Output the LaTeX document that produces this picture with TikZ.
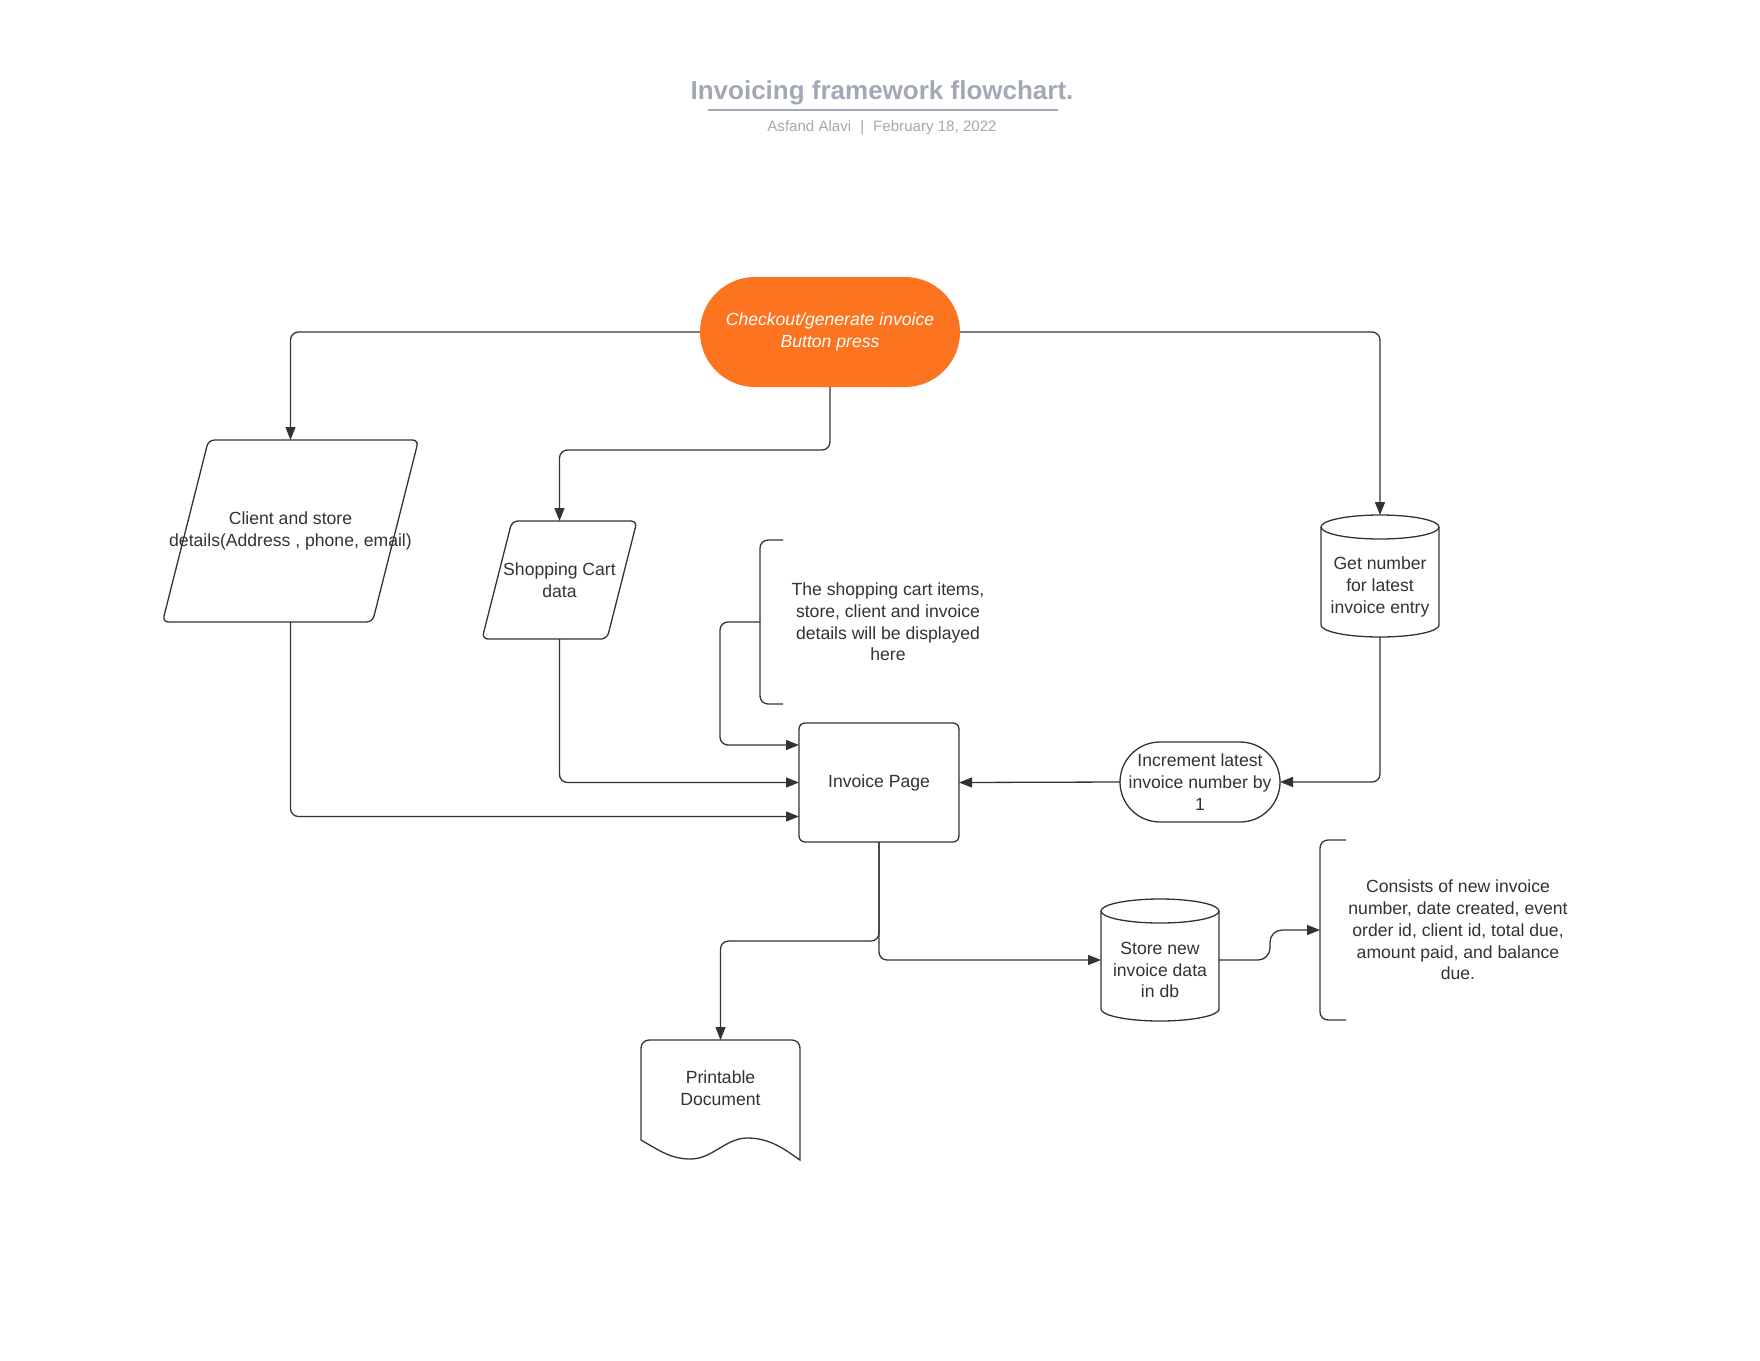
\documentclass[tikz,border=0pt]{standalone}
\usepackage{fontspec}
\setmainfont{Liberation Sans}
\usetikzlibrary{arrows.meta,calc}
\definecolor{ink}{HTML}{333333}
\definecolor{brand}{HTML}{FC7420}
\definecolor{muted}{HTML}{A3A9B4}

% database drum drawn around an (empty) shape node of 118 x 122
\newcommand\drumoutline[1]{%
  \begin{scope}[shift={(#1.center)}]
    \draw[outline] (0,-49) ellipse [x radius=59pt, y radius=12pt];
    \draw[outline] (-59,-49) -- (-59,49)
      .. controls (-59,55.6) and (-32.6,61) .. (0,61)
      .. controls (32.6,61) and (59,55.6) .. (59,49) -- (59,-49);
  \end{scope}}

\begin{document}
\begin{tikzpicture}[x=1pt,y=-1pt,
  every node/.style={inner sep=0pt, outer sep=0pt},
  body/.style={font=\fontsize{17.6pt}{21.7pt}\selectfont, text=ink, align=center},
  outline/.style={draw=ink, line width=1.3pt},
  arr/.style={draw=ink, line width=1.3pt, rounded corners=8pt,
    -{Triangle[length=13pt,width=10pt]}},
  drumbox/.style={minimum width=118pt, minimum height=122pt},
]
\fill[white] (0,0) rectangle (1760,1360);
\useasboundingbox (0,0) rectangle (1760,1360);

% heading
\node[font=\fontsize{26pt}{31pt}\selectfont\bfseries, text=muted, anchor=base]
  (title) at (882,99.5) {Invoicing framework flowchart.};
\draw[muted, line width=2pt] (708,109.5) -- (1058,109.5);
\node[font=\fontsize{15.1pt}{18pt}\selectfont, text=muted, anchor=base]
  (byline) at (882,131) {Asfand Alavi\hspace{9pt}|\hspace{9pt}February 18, 2022};

% start terminal
\node[fill=brand, minimum width=260pt, minimum height=110pt, rounded corners=55pt,
  font=\fontsize{17.6pt}{21.7pt}\selectfont\itshape, text=white, align=center]
  (start) at (830,332) {Checkout/generate invoice\\Button press};

% client and store input
\node[body, minimum width=256pt, minimum height=182pt] (client) at (290.5,531)
  {Client and store\\details(Address , phone, email)};
\draw[outline, rounded corners=6pt] ($(client.north west)+(46,0)$) -- (client.north east)
  -- ($(client.south east)+(-46,0)$) -- (client.south west) -- cycle;

% shopping cart input
\node[body, minimum width=155pt, minimum height=118pt] (cart) at (559.5,580)
  {Shopping Cart\\data};
\draw[outline, rounded corners=6pt] ($(cart.north west)+(30,0)$) -- (cart.north east)
  -- ($(cart.south east)+(-30,0)$) -- (cart.south west) -- cycle;

% invoice page
\node[body, outline, rounded corners=6pt, minimum width=160pt, minimum height=119pt]
  (inv) at (879,782.5) {Invoice Page};

% increment step
\node[body, outline, rounded corners=40pt, minimum width=160pt, minimum height=80pt]
  (inc) at (1200,782) {Increment latest\\invoice number by\\1};

% latest invoice number lookup
\node[drumbox] (getnum) at (1380,576) {};
\drumoutline{getnum}
\node[body] (getnumtext) at ($(getnum)+(0,11)$) {Get number\\for latest\\invoice entry};

% store invoice
\node[drumbox] (store) at (1160,960) {};
\drumoutline{store}
\node[body] (storetext) at ($(store)+(0,10)$) {Store new\\invoice data\\in db};

% printable document
\node[minimum width=159pt, minimum height=120pt] (doc) at (720.5,1100) {};
\begin{scope}[shift={(doc.center)}]
  \draw[outline, rounded corners=8pt] (-79.5,40) -- (-79.5,-60) -- (79.5,-60)
    [sharp corners] -- (79.5,60)
    .. controls (65,50) and (50,38) .. (27,38)
    .. controls (5,38) and (-8,59) .. (-30,59)
    .. controls (-50,59) and (-62,50) .. (-79.5,40);
\end{scope}
\node[body] (doctext) at ($(doc)+(0,-12)$) {Printable\\Document};

% annotations
\node[body, minimum width=256pt, minimum height=164pt] (note1) at (888,622)
  {The shopping cart items,\\store, client and invoice\\details will be displayed\\here};
\draw[outline, rounded corners=8pt] ($(note1.north west)+(23,0)$) -- (note1.north west)
  -- (note1.south west) -- ($(note1.south west)+(23,0)$);

\node[body, minimum width=276pt, minimum height=180pt] (note2) at (1458,930)
  {Consists of new invoice\\number, date created, event\\order id, client id, total due,\\amount paid, and balance\\due.};
\draw[outline, rounded corners=8pt] ($(note2.north west)+(26,0)$) -- (note2.north west)
  -- (note2.south west) -- ($(note2.south west)+(26,0)$);

% connectors
\draw[arr] (start.west) -| (client.north);
\draw[arr] (start.south) -- ++(0,63) -| (cart.north);
\draw[arr] (start.east) -| (getnum.north);
\draw[arr] (getnum.south) |- (inc.east);
\draw[arr] (inc.west) -- (inv.east);
\draw[arr] (client.south) |- ([yshift=-34pt]inv.west);
\draw[arr] (cart.south) |- (inv.west);
\draw[arr] (note1.west) -- ++(-40,0) |- ([yshift=37.5pt]inv.west);
\draw[arr] (inv.south) -- ++(0,99) -| (doc.north);
\draw[arr] (inv.south) |- (store.west);
\draw[arr, rounded corners=12pt] (store.east) -- ++(51,0) |- (note2.west);
\end{tikzpicture}
\end{document}
